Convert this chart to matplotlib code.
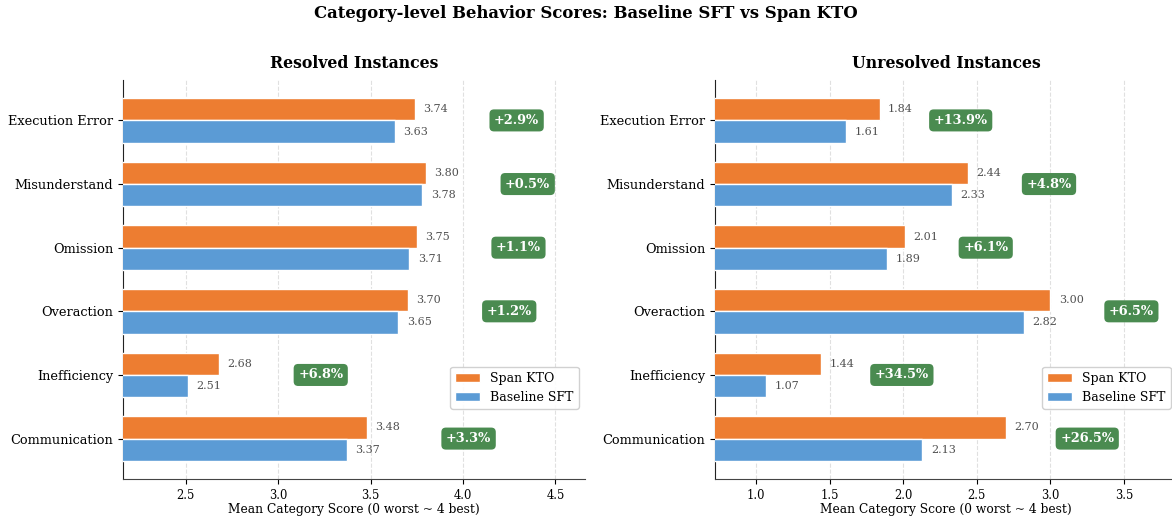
import matplotlib
matplotlib.use("Agg")
import matplotlib.pyplot as plt
import numpy as np

plt.rcParams['font.family'] = ['DejaVu Serif']

categories = ["Execution Error", "Misunderstand", "Omission", "Overaction",
              "Inefficiency", "Communication"]

resolved_kto = [3.74, 3.80, 3.75, 3.70, 2.68, 3.48]
resolved_sft = [3.63, 3.78, 3.71, 3.65, 2.51, 3.37]
resolved_pct = [2.9, 0.5, 1.1, 1.2, 6.8, 3.3]

unresolved_kto = [1.84, 2.44, 2.01, 3.00, 1.44, 2.70]
unresolved_sft = [1.61, 2.33, 1.89, 2.82, 1.07, 2.13]
unresolved_pct = [13.9, 4.8, 6.1, 6.5, 34.5, 26.5]

panel_titles = ["Resolved Instances", "Unresolved Instances"]
series_names = ["Span KTO", "Baseline SFT"]
xticks_left = [2.5, 3.0, 3.5, 4.0, 4.5]
xticks_right = [1.0, 1.5, 2.0, 2.5, 3.0, 3.5]

C_KTO = "#ED7D31"
C_SFT = "#5B9BD5"
C_BOX = "#4A8B50"

W, H = 1172, 517
fig = plt.figure(figsize=(W / 100, H / 100), dpi=100)

def ax_rect(x0, x1, y0, y1):
    return [x0 / W, 1 - y1 / H, (x1 - x0) / W, (y1 - y0) / H]

ax1 = fig.add_axes(ax_rect(123, 585, 80, 479))
ax2 = fig.add_axes(ax_rect(715, 1177, 80, 479))

def draw(ax, kto, sft, pct, title, xticks):
    y = np.arange(len(categories))
    h = 0.35
    ax.barh(y - h / 2, kto, height=h, color=C_KTO, edgecolor="white",
            linewidth=1.0, label=series_names[0], zorder=3)
    ax.barh(y + h / 2, sft, height=h, color=C_SFT, edgecolor="white",
            linewidth=1.0, label=series_names[1], zorder=3)
    for yi, v in zip(y, kto):
        ax.annotate(f"{v:.2f}", (v, yi - h / 2), xytext=(6, 0),
                    textcoords="offset points", va="center", ha="left",
                    fontsize=8, color="#505050")
    for yi, v in zip(y, sft):
        ax.annotate(f"{v:.2f}", (v, yi + h / 2), xytext=(6, 0),
                    textcoords="offset points", va="center", ha="left",
                    fontsize=8, color="#505050")
    for yi, a, b, p in zip(y, kto, sft, pct):
        ax.text(max(a, b) + 0.55, yi, f"+{p:.1f}%", ha="center", va="center",
                fontsize=9.3, fontweight="bold", color="white", zorder=5,
                bbox=dict(boxstyle="round,pad=0.35", facecolor=C_BOX,
                          edgecolor="none"))
    lo = min(min(kto), min(sft)) - 0.35
    hi = max(max(kto), max(sft)) + 0.86
    ax.set_xlim(lo, hi)
    ax.set_yticks(y)
    ax.set_yticklabels(categories, fontsize=9.3)
    ax.invert_yaxis()
    ax.set_xticks(xticks)
    ax.set_xticklabels([f"{t:.1f}" for t in xticks], fontsize=8.3)
    ax.set_xlabel("Mean Category Score (0 worst ~ 4 best)", fontsize=8.8, labelpad=1)
    ax.set_title(title, fontsize=11.3, fontweight="bold", pad=9)
    ax.grid(axis="x", linestyle="--", color="#e0e0e0", linewidth=0.8, zorder=0)
    ax.set_axisbelow(True)
    for s in ["top", "right"]:
        ax.spines[s].set_visible(False)
    ax.spines["left"].set_color("#222222")
    ax.spines["bottom"].set_color("#444444")
    ax.legend(loc="lower right", bbox_to_anchor=(1.0, 0.16), fontsize=9,
              framealpha=0.9, edgecolor="#cccccc", handlelength=2.0)

draw(ax1, resolved_kto, resolved_sft, resolved_pct, panel_titles[0], xticks_left)
draw(ax2, unresolved_kto, unresolved_sft, unresolved_pct, panel_titles[1], xticks_right)

fig.suptitle("Category-level Behavior Scores: Baseline SFT vs Span KTO",
             fontsize=11.9, fontweight="bold", y=1 - 13 / H, va="center")

fig.savefig("out.png", dpi=100)
